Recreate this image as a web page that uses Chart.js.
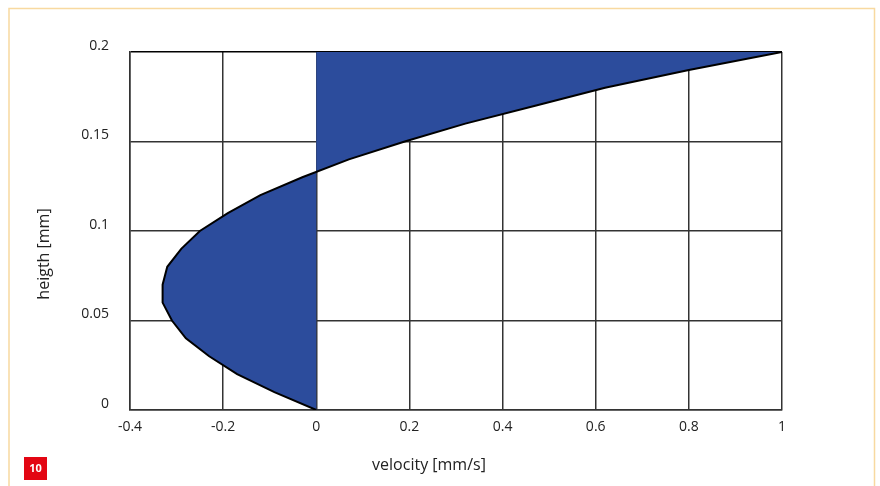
<!DOCTYPE html>
<html>
<head>
<meta charset="utf-8">
<script src="https://cdn.jsdelivr.net/npm/chart.js@4.4.1/dist/chart.umd.min.js"></script>
<style>
    html, body { margin: 0; padding: 0; background: #fff; }
    .chart-box { width: 880px; height: 486px; }
</style>
</head>
<body>
<div class="chart-box"><canvas class="profile-chart"></canvas></div>
<script>
// Values
const heights = [0, 0.01, 0.02, 0.03, 0.04, 0.05, 0.06, 0.07, 0.08, 0.09, 0.1,
    0.11, 0.12, 0.13, 0.14, 0.15, 0.16, 0.17, 0.18, 0.19, 0.2];
const velocities = [0, -0.09, -0.17, -0.23, -0.28, -0.31, -0.33, -0.33, -0.32, -0.29, -0.25,
    -0.19, -0.12, -0.03, 0.07, 0.19, 0.32, 0.47, 0.62, 0.80, 1];
const xTickLabels = ['-0.4', '-0.2', '0', '0.2', '0.4', '0.6', '0.8', '1'];
const yTickLabels = ['0', '0.05', '0.1', '0.15', '0.2'];
const xTitle = 'velocity [mm/s]';
const yTitle = 'heigth [mm]';
const figureNumber = '10';

const profileCanvas = document.querySelector('.profile-chart');
const fontFamily = '"Open Sans", "Noto Sans", sans-serif';

// Axis titles, figure badge and frame drawn on top of the chart
const decorations = {
    id: 'decorations',
    afterDraw(chart) {
        const ctx = chart.ctx;
        ctx.save();

        // frame
        ctx.strokeStyle = '#f8d9a0';
        ctx.lineWidth = 1.5;
        ctx.beginPath();
        ctx.moveTo(9, 486);
        ctx.lineTo(9, 8.5);
        ctx.lineTo(874.5, 8.5);
        ctx.lineTo(874.5, 486);
        ctx.stroke();

        // axis titles
        ctx.fillStyle = '#222';
        ctx.font = '16px ' + fontFamily;
        ctx.textAlign = 'center';
        ctx.textBaseline = 'middle';
        ctx.fillText(xTitle, 429, 465);
        ctx.translate(44, 254);
        ctx.rotate(-Math.PI / 2);
        ctx.fillText(yTitle, 0, 0);
        ctx.setTransform(1, 0, 0, 1, 0, 0);

        // figure number badge
        ctx.fillStyle = '#e30613';
        ctx.fillRect(24, 457, 23, 23);
        ctx.fillStyle = '#fff';
        ctx.font = 'bold 11px ' + fontFamily;
        ctx.fillText(figureNumber, 35.5, 469);

        ctx.restore();
    }
};

const gridColor = (context) => (context.tick && context.tick.value === 0) ? '#000' : '#333';
const gridWidth = (context) => (context.tick && context.tick.value === 0) ? 2 : 1.5;

new Chart(profileCanvas.getContext('2d'), {
    type: 'line',
    data: {
        datasets: [{
            data: heights.map((h, i) => ({ x: velocities[i], y: h })),
            borderColor: '#000',
            borderWidth: 2,
            backgroundColor: '#2c4c9c',
            fill: 'origin',
            pointRadius: 0,
            tension: 0
        }, {
            // top edge of the profile
            data: [{ x: 0, y: 0.2 }, { x: 1, y: 0.2 }],
            borderColor: '#000',
            borderWidth: 2,
            pointRadius: 0,
            fill: false
        }]
    },
    options: {
        indexAxis: 'y',
        responsive: true,
        maintainAspectRatio: false,
        animation: false,
        layout: { padding: { left: 0, top: 52, right: 98, bottom: 0 } },
        scales: {
            x: {
                type: 'linear',
                min: -0.4,
                max: 1,
                afterFit: (scale) => { scale.height = 76; },
                ticks: {
                    stepSize: 0.2,
                    padding: 9,
                    color: '#222',
                    font: { family: fontFamily, size: 14 },
                    maxRotation: 0,
                    callback: (value, index) => xTickLabels[index]
                },
                grid: { color: gridColor, lineWidth: gridWidth, drawTicks: false },
                border: { color: '#333', width: 1.5 }
            },
            y: {
                type: 'linear',
                min: 0,
                max: 0.2,
                afterFit: (scale) => { scale.width = 130; },
                ticks: {
                    stepSize: 0.05,
                    padding: 21,
                    labelOffset: -6,
                    color: '#222',
                    font: { family: fontFamily, size: 14 },
                    callback: (value, index) => yTickLabels[index]
                },
                grid: {
                    color: (c) => (c.tick && c.tick.value === 0.2) ? '#000' : '#333',
                    lineWidth: 1.5,
                    drawTicks: false
                },
                border: { color: '#333', width: 1.5 }
            }
        },
        plugins: {
            legend: { display: false },
            tooltip: { enabled: false }
        }
    },
    plugins: [decorations]
});
</script>
</body>
</html>
